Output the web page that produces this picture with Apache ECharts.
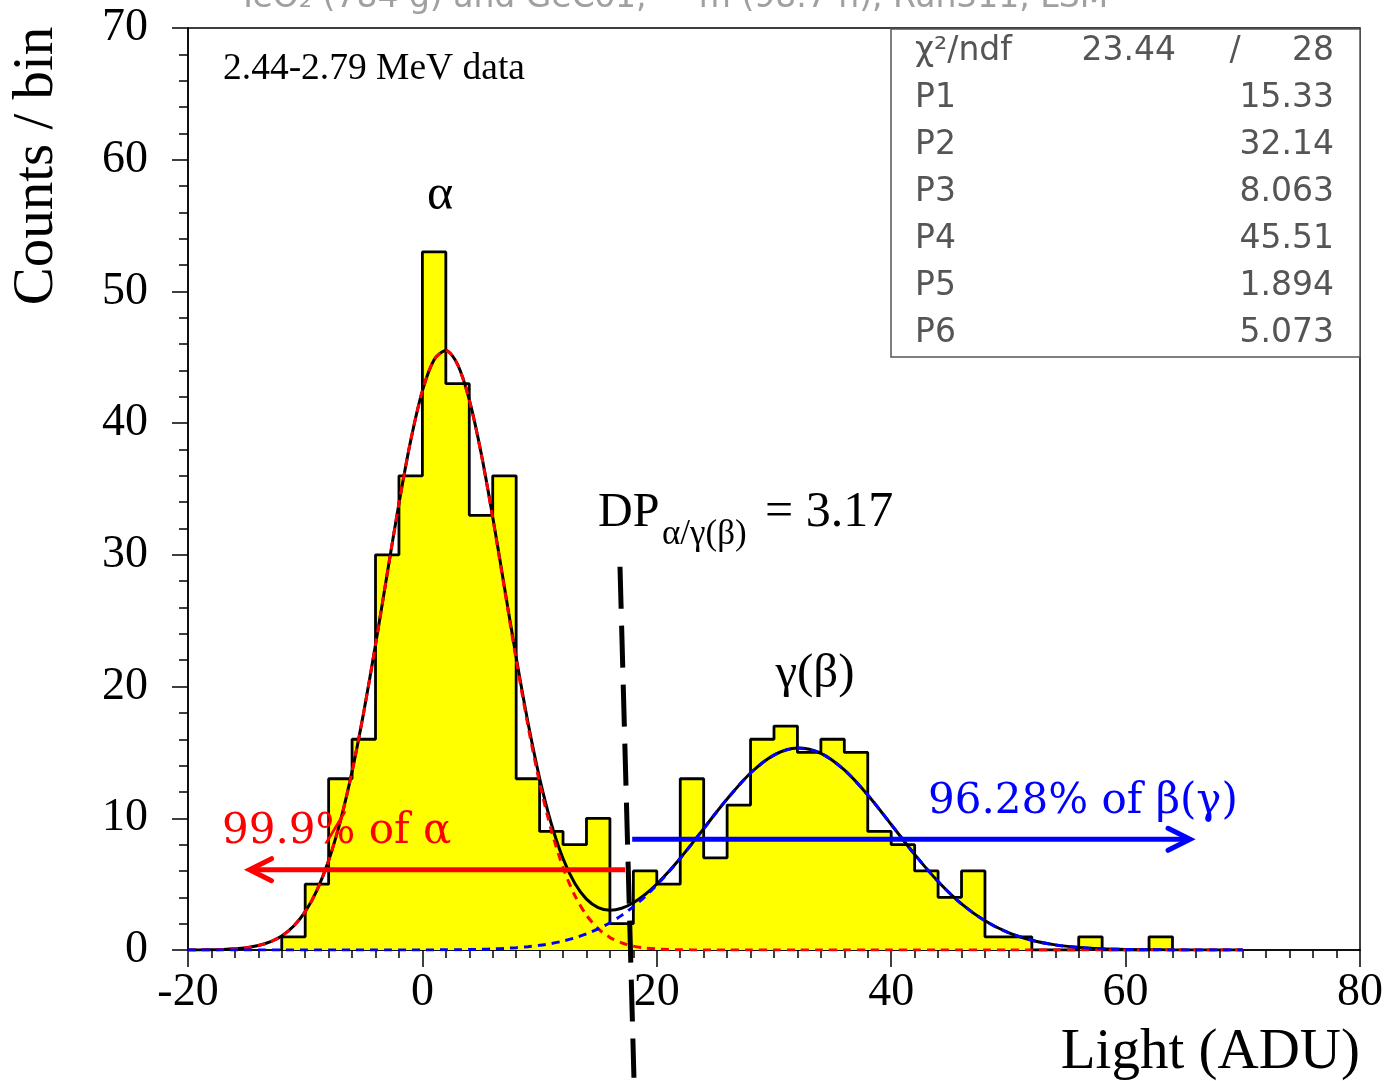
<!DOCTYPE html>
<html><head><meta charset="utf-8">
<script src="https://cdn.jsdelivr.net/npm/echarts@6/dist/echarts.min.js"></script>
<style>html,body{margin:0;padding:0;background:#fff}#c{width:1386px;height:1081px}</style>
</head><body><div id="c"></div>
<script>
// ---- histogram (bin width 2 ADU) ----
const binWidth = 2;
const binStart = [-12,-10,-8,-6,-4,-2,0,2,4,6,8,10,12,14,16,18,20,22,24,26,28,30,32,34,36,38,40,42,44,46,48,50,52,54,56,58,60,62];
const counts   = [1,5,13,16,30,36,53,43,33,36,13,9,8,10,2,6,5,13,7,11,16,17,15,16,15,9,8,6,4,6,1,1,0,0,1,0,0,1];

const fitX = [-20,-19,-18,-17,-16,-15,-14,-13,-12,-11,-10,-9,-8,-7,-6,-5,-4,-3,-2,-1,0,1,2,3,4,5,6,7,8,9,10,11,12,13,14,15,16,17,18,19,20,21,22,23,24,25,26,
              28,30,32,34,36,38,40,42,44,46,48,50,52,54,56,58,60,62,64,66,68,70];
const alphaFit = [0.004,0.009,0.021,0.044,0.091,0.178,0.336,0.612,1.070,1.800,2.913,4.536,6.794,9.785,13.56,18.08,23.17,28.58,33.90,38.67,42.45,44.81,45.50,44.44,41.75,37.73,32.80,27.42,22.05,17.06,12.70,9.089,6.258,4.144,2.640,1.617,0.953,0.541,0.295,0.155,0.078,0.038,0.018,0.008,0.003,0.001,0,
                  0,0,0,0,0,0,0,0,0,0,0,0,0,0,0,0,0,0,0,0,0,0];
const betaFit = [0,0,0,0,0,0,0,0,0,0,0,0,0,0,0,0.0004,0.0007,0.0011,0.002,0.0033,0.0054,0.0088,0.0142,0.0224,0.0347,0.0531,0.080,0.119,0.173,0.250,0.353,0.493,0.677,0.916,1.220,1.601,2.067,2.629,3.294,4.062,4.935,5.902,6.952,8.064,9.208,10.36,11.47,
                 13.44,14.80,15.33,14.93,13.67,11.77,9.532,7.259,5.197,3.498,2.215,1.319,0.738,0.389,0.192,0.090,0.039,0.016,0.006,0.002,0.001,0];

// ---- stats box ----
const statNames  = ['P1','P2','P3','P4','P5','P6'];
const statValues = ['15.33','32.14','8.063','45.51','1.894','5.073'];
const chi2 = '23.44', ndf = '28';

// ---- annotations (data coordinates) ----
const cutLine   = [[16.86, 29.1], [18.05, -9.7]];
const redArrow  = {from: [17.3, 6.1], to: [-14.75, 6.1]};
const blueArrow = {from: [17.9, 8.4], to: [65.5, 8.4]};

const serif = '"Liberation Serif","Times New Roman",serif';
const wideSerif = '"DejaVu Serif",serif';
const thinSans = '"DejaVu Sans",sans-serif';

const histData = [[binStart[0], 0]];
binStart.forEach((b, i) => histData.push([b, counts[i]]));
histData.push([binStart[binStart.length - 1] + binWidth, 0]);
const totalFit = fitX.map((x, i) => [x, alphaFit[i] + betaFit[i]]);
const alphaData = fitX.map((x, i) => [x, alphaFit[i]]);
const betaData = fitX.map((x, i) => [x, betaFit[i]]);

const chart = echarts.init(document.getElementById('c'), null, {renderer: 'canvas'});
const axisCommon = {
  type: 'value',
  axisLine: {onZero: false, lineStyle: {color: '#000', width: 1.5}},
  splitLine: {show: false}
};
chart.setOption({
  animation: false,
  grid: {left: 188, right: 26, top: 28, bottom: 131, show: true, borderColor: '#000', borderWidth: 1.5},
  xAxis: Object.assign({}, axisCommon, {
    min: -20, max: 80, interval: 20,
    axisTick: {inside: false, length: 17, lineStyle: {color: '#000', width: 1.5}},
    minorTick: {show: true, splitNumber: 10, length: 8, lineStyle: {color: '#000', width: 1.5}},
    axisLabel: {fontFamily: serif, fontSize: 46, color: '#000', margin: 20}
  }),
  yAxis: Object.assign({}, axisCommon, {
    min: 0, max: 70, interval: 10,
    axisTick: {inside: false, length: 16, lineStyle: {color: '#000', width: 1.5}},
    minorTick: {show: true, splitNumber: 5, length: 9, lineStyle: {color: '#000', width: 1.5}},
    axisLabel: {fontFamily: serif, fontSize: 46, color: '#000', margin: 40}
  }),
  series: [
    {type: 'line', step: 'end', data: histData, symbol: 'none', z: 2,
     lineStyle: {color: '#000', width: 2.8}, areaStyle: {color: '#ffff00', opacity: 1}},
    {type: 'line', data: totalFit, symbol: 'none', smooth: 0.3, z: 3,
     lineStyle: {color: '#000', width: 3}},
    {type: 'line', data: alphaData, symbol: 'none', smooth: 0.3, z: 4,
     lineStyle: {color: '#ff0000', width: 3, type: [8, 6]}},
    {type: 'line', data: betaData, symbol: 'none', smooth: 0.3, z: 5,
     lineStyle: {color: '#0000ff', width: 3, type: [8, 6]}}
  ]
});

const px = (pt) => chart.convertToPixel({gridIndex: 0}, pt);
function arrow(a, color) {
  const f = px(a.from), t = px(a.to);
  const dir = t[0] < f[0] ? 1 : -1;
  return [
    {type: 'line', z: 100, shape: {x1: f[0], y1: f[1], x2: t[0] + dir * 2, y2: t[1]},
     style: {stroke: color, lineWidth: 5}},
    {type: 'polyline', z: 100, shape: {points: [[t[0] + dir * 22, t[1] - 11], [t[0], t[1]], [t[0] + dir * 22, t[1] + 11]]},
     style: {stroke: color, lineWidth: 5, fill: null, lineJoin: 'miter', lineCap: 'round'}}
  ];
}
const c0 = px(cutLine[0]), c1 = px(cutLine[1]);
const T = (text, x, y, size, family, opts) => ({type: 'text', z: 110, x: x, y: y,
  style: Object.assign({text, x: 0, y: 0, fontSize: size, fontFamily: family, fill: '#000', align: 'left', verticalAlign: 'middle'}, opts || {})});

const g = [];
// title (cut at top)
g.push(T('TeO\u2082 (784 g) and GeCo1,     m (98.7 h), Run311, LSM', 238, -2, 33, thinSans, {fill: '#a0a0a0'}));
// stats box
g.push({type: 'rect', z: 105, shape: {x: 891, y: 29, width: 469, height: 328},
        style: {fill: '#fff', stroke: '#555', lineWidth: 1.5}});
const sc = '#555';
g.push(T('\u03c7\u00b2/ndf', 915, 51, 33, thinSans, {fill: sc}));
g.push(T(chi2, 1176, 51, 33, thinSans, {fill: sc, align: 'right'}));
g.push(T('/', 1235, 51, 33, thinSans, {fill: sc, align: 'center'}));
g.push(T(ndf, 1334, 51, 33, thinSans, {fill: sc, align: 'right'}));
statNames.forEach((n, i) => {
  const y = 98 + i * 47;
  g.push(T(n, 915, y, 33, thinSans, {fill: sc}));
  g.push(T(statValues[i], 1334, y, 33, thinSans, {fill: sc, align: 'right'}));
});
// labels
g.push(T('2.44-2.79 MeV data', 223, 69, 37.5, serif));
g.push(T('\u03b1', 440, 196, 50, serif, {align: 'center'}));
g.push(T('\u03b3(\u03b2)', 815, 674, 49, serif, {align: 'center'}));
g.push(T('DP', 598, 513, 48, serif));
g.push(T('\u03b1/\u03b3(\u03b2)', 662, 535, 35, serif));
g.push(T('= 3.17', 765, 513, 50, serif));
g.push(T('99.9% of \u03b1', 222, 832, 42, wideSerif, {fill: '#ff0000'}));
g.push(T('96.28% of \u03b2(\u03b3)', 928, 802, 42, wideSerif, {fill: '#0000ff'}));
// axis titles
const yTitle = T('Counts / bin', 37, 166, 57, serif, {align: 'center'});
yTitle.rotation = Math.PI / 2;
g.push(yTitle);
g.push(T('Light (ADU)', 1360, 1053, 57, serif, {align: 'right'}));
// cut line + arrows
g.push({type: 'line', z: 100, shape: {x1: c0[0], y1: c0[1], x2: c1[0], y2: c1[1]},
        style: {stroke: '#000', lineWidth: 5, lineDash: [42, 17]}});
arrow(redArrow, '#ff0000').forEach(e => g.push(e));
arrow(blueArrow, '#0000ff').forEach(e => g.push(e));
chart.setOption({graphic: g});
</script></body></html>
